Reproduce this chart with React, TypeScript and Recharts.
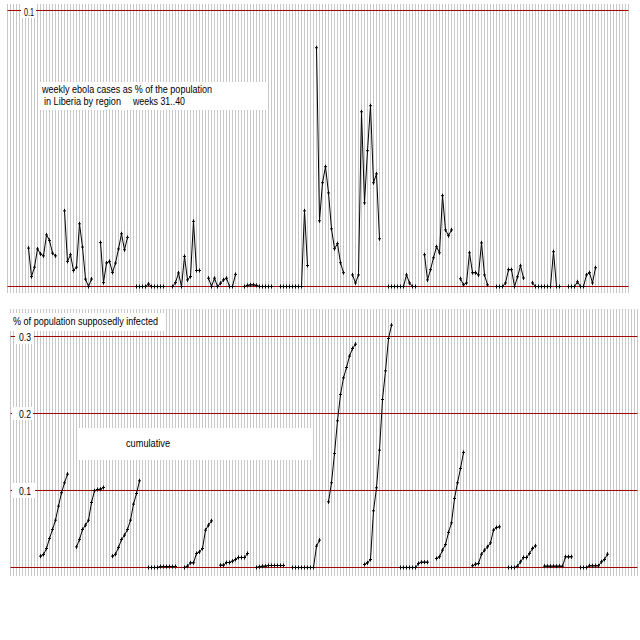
import React from 'react';
import { LineChart, Line, XAxis, YAxis, CartesianGrid, ReferenceLine } from 'recharts';

// weekly cases as % of population, weeks 31..40, one array per region
const weekly01 = [0.0139, 0.0036, 0.007, 0.0136, 0.0118, 0.0111, 0.0187, 0.0167, 0.0121, 0.0111];
const weekly02 = [0.0274, 0.0091, 0.0115, 0.0058, 0.007, 0.0227, 0.0143, 0.0027, 0, 0.0027];
const weekly03 = [0.0159, 0.0014, 0.0085, 0.0091, 0.0051, 0.0085, 0.0136, 0.0191, 0.0133, 0.0178];
const weekly04 = [0, 0, 0, 0, 0.0009, 0, 0, 0, 0, 0];
const weekly05 = [0, 0.0014, 0.0049, 0, 0.0109, 0.0024, 0.0036, 0.0236, 0.0058, 0.0058];
const weekly06 = [0.003, 0, 0.003, 0, 0.0012, 0.0024, 0.003, 0, 0, 0.0044];
const weekly07 = [0, 0.0004, 0.0006, 0.0006, 0.0004, 0, 0, 0, 0, 0];
const weekly08 = [0, 0, 0, 0, 0, 0, 0, 0, 0.0274, 0.0076];
const weekly09 = [0.0865, 0.0238, 0.0376, 0.0434, 0.0339, 0.0209, 0.0137, 0.0155, 0.0086, 0.005];
const weekly10 = [0.0042, 0.0013, 0.0042, 0.0633, 0.0303, 0.0492, 0.0655, 0.0376, 0.0408, 0.0173];
const weekly11 = [0, 0, 0, 0, 0, 0, 0.0042, 0.0013, 0, 0];
const weekly12 = [0.0115, 0.0024, 0.0061, 0.0104, 0.0144, 0.0122, 0.0329, 0.0205, 0.0184, 0.0205];
const weekly13 = [0.0028, 0.0006, 0.0013, 0.0122, 0.005, 0.005, 0.0042, 0.0158, 0.0042, 0.0006];
const weekly14 = [0, 0, 0, 0.0013, 0.0061, 0.0061, 0, 0.0035, 0.0075, 0.0031];
const weekly15 = [0.0013, 0, 0, 0, 0, 0, 0, 0.0126, 0, 0];
const weekly16 = [0, 0, 0, 0.0017, 0, 0, 0.0042, 0.005, 0.0013, 0.0068];

// cumulative % of population, same regions
const cum01 = [0.0147, 0.0169, 0.0247, 0.0377, 0.0494, 0.0615, 0.0797, 0.097, 0.11, 0.1212];
const cum02 = [0.0268, 0.0364, 0.0494, 0.055, 0.0615, 0.0844, 0.0996, 0.1013, 0.1017, 0.1039];
const cum03 = [0.0147, 0.0173, 0.026, 0.0364, 0.042, 0.0494, 0.0615, 0.0823, 0.0961, 0.1126];
const cum04 = [0, 0, 0, 0, 0.0012, 0.0012, 0.0012, 0.0012, 0.0012, 0.0012];
const cum05 = [0, 0.0017, 0.0061, 0.0061, 0.0182, 0.0203, 0.0247, 0.0485, 0.055, 0.0606];
const cum06 = [0.003, 0.003, 0.0065, 0.0065, 0.0082, 0.0104, 0.013, 0.013, 0.013, 0.0182];
const cum07 = [0, 0.0009, 0.0017, 0.0017, 0.0026, 0.0026, 0.0026, 0.0026, 0.0026, 0.0026];
const cum08 = [0, 0, 0, 0, 0, 0, 0, 0, 0.0277, 0.0355];
const cum09 = [0.0853, 0.11, 0.1481, 0.1905, 0.2247, 0.2463, 0.2597, 0.2745, 0.2844, 0.29];
const cum10 = [0.0039, 0.0061, 0.0104, 0.0736, 0.1035, 0.1524, 0.2182, 0.2554, 0.2974, 0.3147];
const cum11 = [0, 0, 0, 0, 0, 0, 0.0052, 0.0069, 0.0069, 0.0069];
const cum12 = [0.0117, 0.0139, 0.0225, 0.0299, 0.0455, 0.058, 0.0896, 0.11, 0.1286, 0.1494];
const cum13 = [0.0022, 0.0043, 0.0052, 0.0173, 0.0225, 0.0268, 0.032, 0.0485, 0.0519, 0.0528];
const cum14 = [0, 0, 0, 0.0017, 0.0074, 0.013, 0.013, 0.0182, 0.0247, 0.0281];
const cum15 = [0.0017, 0.0017, 0.0017, 0.0017, 0.0017, 0.0017, 0.0017, 0.0139, 0.0139, 0.0139];
const cum16 = [0, 0, 0, 0.0022, 0.0022, 0.0022, 0.0022, 0.0074, 0.0104, 0.0173];

const weeklyRegions = [weekly01, weekly02, weekly03, weekly04, weekly05, weekly06, weekly07, weekly08,
  weekly09, weekly10, weekly11, weekly12, weekly13, weekly14, weekly15, weekly16];
const cumRegions = [cum01, cum02, cum03, cum04, cum05, cum06, cum07, cum08,
  cum09, cum10, cum11, cum12, cum13, cum14, cum15, cum16];

const topTicks = [0, 0.1];
const bottomTicks = [0, 0.1, 0.2, 0.3];

// each region takes 12 week slots: 10 weeks + 2 empty
const SLOT = 12;

const buildRows = (regions: number[][]) => {
  const rows: { slot: number; v: number | null }[] = [];
  regions.forEach((vals, r) => {
    vals.forEach((v, i) => rows.push({ slot: r * SLOT + i, v }));
    rows.push({ slot: r * SLOT + vals.length, v: null });
  });
  return rows;
};

const range = (a: number, b: number) => {
  const out: number[] = [];
  for (let i = a; i <= b; i++) out.push(i);
  return out;
};

const PlusDot = (props: any) => {
  const { cx, cy, value, index } = props;
  if (cx == null || cy == null || value == null) return <g key={index} />;
  return (
    <path
      key={index}
      d={`M${cx - 1.5},${cy}H${cx + 1.5}M${cx},${cy - 2}V${cy + 2}`}
      stroke="#000"
      strokeWidth={1}
      fill="none"
    />
  );
};

const RED = '#a00000';
const GRID = '#c8c8c8';
const font = { fontFamily: 'Liberation Sans, Arial, sans-serif', fontSize: 11, fill: '#000' };

export default function App() {
  const topRows = buildRows(weeklyRegions);
  const bottomRows = buildRows(cumRegions);

  return (
    <div style={{ position: 'absolute', left: 0, top: 0, width: 640, height: 640, background: '#fff' }}>
      <div style={{ position: 'absolute', left: 0, top: 0 }}>
        <LineChart width={640} height={300} data={topRows} margin={{ top: 4, right: 11.5, bottom: 7, left: 7.5 }}>
          <CartesianGrid horizontal={false} stroke={GRID} shapeRendering="crispEdges" />
          <XAxis dataKey="slot" type="number" domain={[-7, 200]} ticks={range(-7, 200)} interval={0} hide />
          <YAxis type="number" domain={[-0.002355, 0.102355]} hide />
          {topTicks.map((t) => (
            <ReferenceLine key={t} y={t} stroke={RED} strokeWidth={1} />
          ))}
          <Line
            dataKey="v"
            stroke="#000"
            strokeWidth={1}
            dot={PlusDot}
            activeDot={false}
            connectNulls={false}
            isAnimationActive={false}
          />
        </LineChart>
      </div>
      <div style={{ position: 'absolute', left: 0, top: 300 }}>
        <LineChart width={640} height={300} data={bottomRows} margin={{ top: 9, right: 2.5, bottom: 24, left: 10.5 }}>
          <CartesianGrid horizontal={false} stroke={GRID} shapeRendering="crispEdges" />
          <XAxis dataKey="slot" type="number" domain={[-10, 199]} ticks={range(-10, 199)} interval={0} hide />
          <YAxis type="number" domain={[-0.01104, 0.33571]} hide />
          {bottomTicks.map((t) => (
            <ReferenceLine key={t} y={t} stroke={RED} strokeWidth={1} />
          ))}
          <Line
            dataKey="v"
            stroke="#000"
            strokeWidth={1}
            dot={PlusDot}
            activeDot={false}
            connectNulls={false}
            isAnimationActive={false}
          />
        </LineChart>
      </div>
      <svg width={640} height={640} style={{ position: 'absolute', left: 0, top: 0, pointerEvents: 'none' }}>
        <rect x={21} y={4} width={15} height={14} fill="#fff" />
        <text x={24} y={16} {...font} textLength={10} lengthAdjust="spacingAndGlyphs">0.1</text>

        <rect x={40} y={82} width={227} height={28} fill="#fff" />
        <text x={42} y={93} {...font} textLength={170} lengthAdjust="spacingAndGlyphs">
          weekly ebola cases as % of the population
        </text>
        <text x={44} y={105} {...font} textLength={77} lengthAdjust="spacingAndGlyphs">in Liberia by region</text>
        <text x={133} y={105} {...font} textLength={52} lengthAdjust="spacingAndGlyphs">weeks 31..40</text>

        <rect x={10} y={313} width={155} height={18} fill="#fff" />
        <text x={13} y={325} {...font} textLength={145} lengthAdjust="spacingAndGlyphs">
          % of population supposedly infected
        </text>

        <rect x={15} y={330} width={19} height={14} fill="#fff" />
        <text x={19} y={341} {...font} textLength={12} lengthAdjust="spacingAndGlyphs">0.3</text>
        <rect x={12} y={407} width={21} height={13} fill="#fff" />
        <text x={19} y={418} {...font} textLength={12} lengthAdjust="spacingAndGlyphs">0.2</text>
        <rect x={12} y={483} width={23} height={15} fill="#fff" />
        <text x={19} y={495} {...font} textLength={12} lengthAdjust="spacingAndGlyphs">0.1</text>

        <rect x={79} y={428} width={234} height={32} fill="#fff" />
        <text x={126} y={447} {...font} textLength={44} lengthAdjust="spacingAndGlyphs">cumulative</text>
      </svg>
    </div>
  );
}
